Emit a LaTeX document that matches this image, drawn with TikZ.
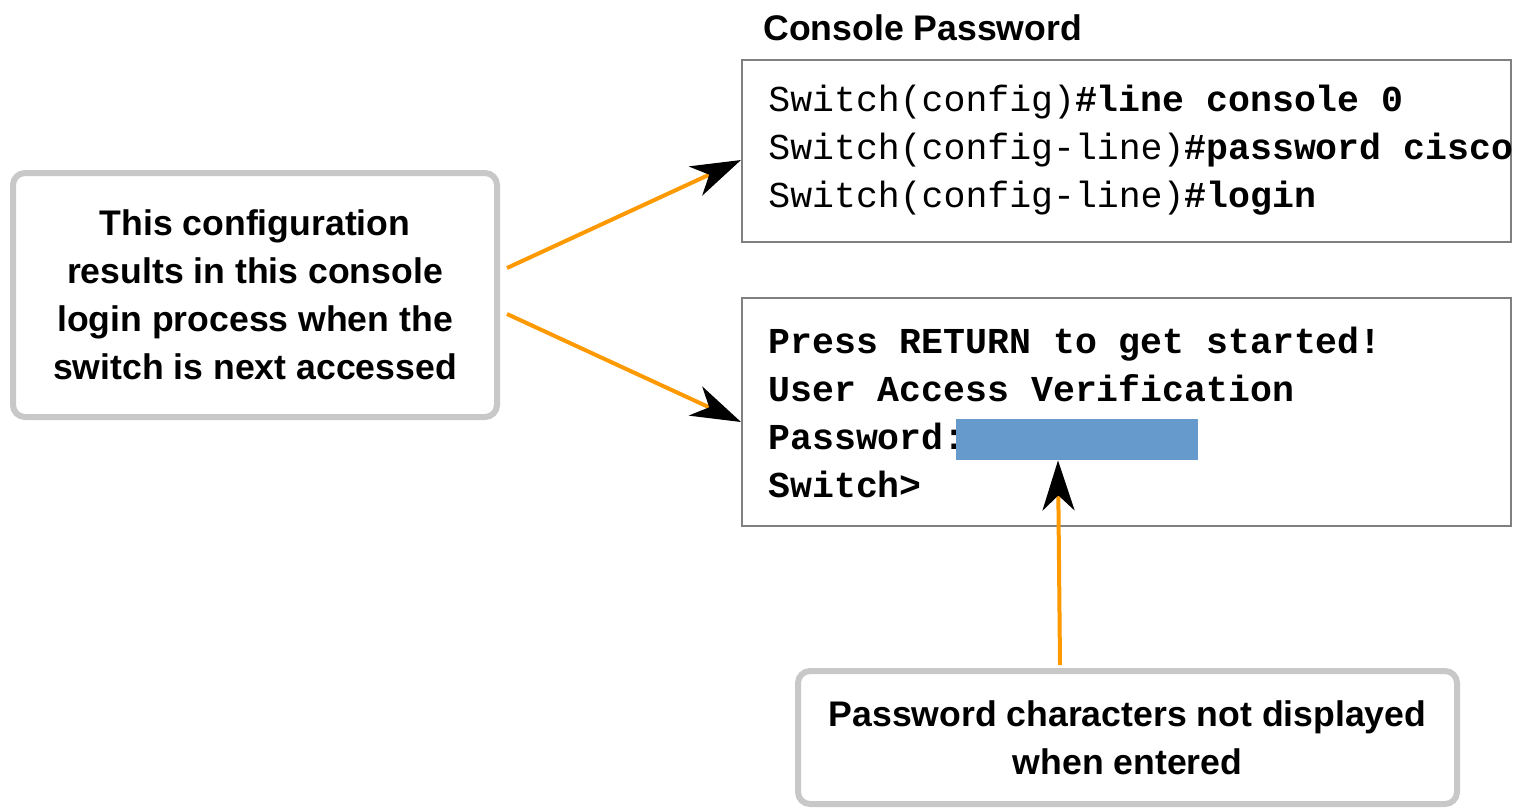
\documentclass[tikz,border=0pt]{standalone}
\usepackage{fontspec}
\setmainfont{Liberation Sans}
\newfontfamily\codefont{Liberation Mono}
\usetikzlibrary{arrows.meta}
\definecolor{arrorange}{RGB}{255,153,0}
\definecolor{maskblue}{RGB}{102,153,204}
\definecolor{calloutgray}{RGB}{200,200,200}
\definecolor{boxgray}{RGB}{128,128,128}
\begin{document}
\begin{tikzpicture}[x=0.5pt,y=-0.5pt,
  callout/.style={draw=calloutgray, line width=3pt, rounded corners=6pt, fill=white,
    align=center, font=\fontsize{17.8}{24}\selectfont\bfseries, inner sep=0pt},
  codebox/.style={draw=boxgray, line width=1pt, inner sep=0pt},
  code/.style={anchor=base west, inner sep=0pt, font=\fontsize{18.25}{24}\selectfont\codefont},
  link/.style={draw=arrorange, line width=2pt,
    -{Stealth[length=25pt,width=16pt,inset=7.5pt,color=black]}},
]
\useasboundingbox (0,0) rectangle (1518,810);

% title
\node[anchor=base west, inner sep=0pt, font=\fontsize{17.8}{24}\selectfont\bfseries] (title) at (763,40) {Console Password};

% configuration box
\node[codebox, minimum width=384.5pt, minimum height=91pt] (cfgbox) at (1126.5,151) {};
\node[code] (c1) at (768,111) {Switch(config)\textbf{\#line console 0}};
\node[code] (c2) at (768,159) {Switch(config-line)\textbf{\#password cisco}};
\node[code] (c3) at (768,207) {Switch(config-line)\textbf{\#login}};

% login box
\node[codebox, minimum width=384.5pt, minimum height=114pt] (loginbox) at (1126.5,412) {};
\node[code] (r1) at (768,353) {\textbf{Press RETURN to get started!}};
\node[code] (r2) at (768,401) {\textbf{User Access Verification}};
\node[code] (r3) at (768,449) {\textbf{Password:}};
\node[code] (r4) at (768,497) {\textbf{Switch>}};
\node[fill=maskblue, inner sep=0pt, minimum width=121pt, minimum height=20.5pt] (mask) at (1077,439.5) {};

% callouts
\node[callout, minimum width=242pt, minimum height=122pt] (cfgnote) at (255,295)
  {This configuration\\results in this console\\login process when the\\switch is next accessed};
\node[callout, minimum width=329.5pt, minimum height=66.5pt] (pwnote) at (1127.5,737.5)
  {Password characters not displayed\\when entered};

% connectors
\draw[link] ([xshift=3.5pt,yshift=13.5pt]cfgnote.east) -- ([yshift=-4.5pt]cfgbox.west);
\draw[link] ([xshift=3.5pt,yshift=-9.5pt]cfgnote.east) -- ([yshift=-5pt]loginbox.west);
\draw[link] ([xshift=-33.75pt,yshift=1.5pt]pwnote.north) -- ([xshift=-9.5pt]mask.south);
\end{tikzpicture}
\end{document}
